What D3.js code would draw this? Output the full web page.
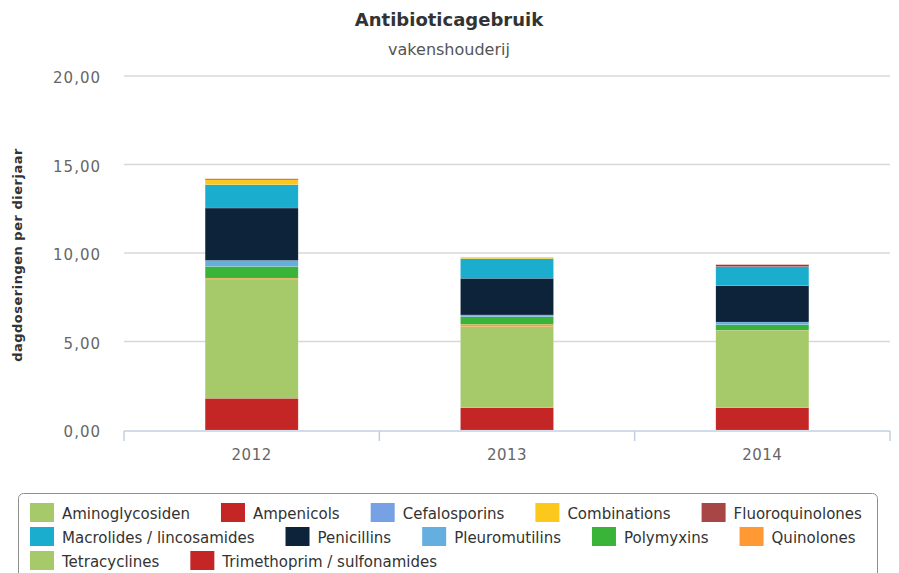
<!DOCTYPE html>
<html>
<head>
<meta charset="utf-8">
<script src="https://cdn.jsdelivr.net/npm/d3@7"></script>
<style>
  body { margin: 0; background: #fff; }
  svg { display: block; font-family: "DejaVu Sans", Verdana, sans-serif; }
</style>
</head>
<body>
<div id="chart"></div>
<script>
const width = 899;
const height = 573;

const years = ["2012", "2013", "2014"];
const seriesNames = ["Aminoglycosiden", "Ampenicols", "Cefalosporins", "Combinations", "Fluoroquinolones",
  "Macrolides / lincosamides", "Penicillins", "Pleuromutilins", "Polymyxins", "Quinolones",
  "Tetracyclines", "Trimethoprim / sulfonamides"];
const legendLabels = ["Aminoglycosiden", "Ampenicols", "Cefalosporins", "Combinations", "Fluoroquinolones",
  "Macrolides / lincosamides", "Penicillins", "Pleuromutilins", "Polymyxins", "Quinolones",
  "Tetracyclines", "Trimethoprim / sulfonamides"];
const seriesColors = ["#a6c96a", "#c42525", "#77a1e5", "#fcc81c", "#a84545",
  "#1aadce", "#0d233a", "#64aee0", "#39b338", "#ff9933",
  "#a6c96a", "#c42525"];

// values per year: 2012, 2013, 2014
const aminoglycosiden = [0, 0, 0];
const ampenicols = [0.05, 0, 0.1];
const cefalosporins = [0, 0, 0];
const combinations = [0.28, 0.08, 0];
const fluoroquinolones = [0, 0, 0];
const macrolides = [1.32, 1.11, 1.09];
const penicillins = [2.96, 2.07, 2.05];
const pleuromutilins = [0.34, 0.1, 0.15];
const polymyxins = [0.66, 0.43, 0.32];
const quinolones = [0.05, 0.13, 0.02];
const tetracyclines = [6.74, 4.58, 4.35];
const trimethoprim = [1.79, 1.26, 1.26];

const yTicks = [0, 5, 10, 15, 20];

const seriesValues = [aminoglycosiden, ampenicols, cefalosporins, combinations, fluoroquinolones,
  macrolides, penicillins, pleuromutilins, polymyxins, quinolones, tetracyclines, trimethoprim];

// table for d3.stack
const table = years.map((y, i) => {
  const row = {year: y};
  seriesNames.forEach((s, j) => { row[s] = seriesValues[j][i]; });
  return row;
});

const margin = {top: 76, right: 9, bottom: 143, left: 124};

const svg = d3.select("#chart")
    .append("svg")
    .attr("width", width)
    .attr("height", height);

const x = d3.scaleBand()
    .domain(years)
    .range([margin.left, width - margin.right])
    .paddingInner(0)
    .paddingOuter(0);

const y = d3.scaleLinear()
    .domain([0, 20])
    .range([height - margin.bottom, margin.top]);

// title
svg.append("text")
    .attr("x", 449).attr("y", 26)
    .attr("text-anchor", "middle")
    .attr("font-size", 18).attr("font-weight", "bold")
    .attr("fill", "#333")
    .text("Antibioticagebruik");

svg.append("text")
    .attr("x", 449).attr("y", 55)
    .attr("text-anchor", "middle")
    .attr("font-size", 16)
    .attr("fill", "#555")
    .text("vakenshouderij");

// gridlines
svg.append("g")
  .selectAll("line")
  .data(yTicks.filter(d => d > 0))
  .join("line")
    .attr("x1", margin.left).attr("x2", width - margin.right)
    .attr("y1", d => y(d)).attr("y2", d => y(d))
    .attr("stroke", "#d8d8d8").attr("stroke-width", 1.5);

// y labels
svg.append("g")
  .selectAll("text")
  .data(yTicks)
  .join("text")
    .attr("x", 101)
    .attr("y", d => y(d) + 7)
    .attr("text-anchor", "end")
    .attr("font-size", 15)
    .attr("letter-spacing", 1)
    .attr("fill", "#666")
    .text(d => d3.format(".2f")(d).replace(".", ","));

svg.append("text")
    .attr("transform", `translate(22,${(y(0) + y(20)) / 2 + 2}) rotate(-90)`)
    .attr("text-anchor", "middle")
    .attr("font-size", 13).attr("font-weight", "bold")
    .attr("letter-spacing", 0.5)
    .attr("fill", "#333")
    .text("dagdoseringen per dierjaar");

// stacked bars, first series on top like Highcharts
const stack = d3.stack().keys(seriesNames.slice().reverse());
const stacked = stack(table);
const barWidth = 93;

svg.append("g")
  .selectAll("g")
  .data(stacked)
  .join("g")
    .attr("fill", d => seriesColors[seriesNames.indexOf(d.key)])
  .selectAll("rect")
  .data(d => d)
  .join("rect")
    .attr("x", d => x(d.data.year) + x.bandwidth() / 2 - barWidth / 2)
    .attr("width", barWidth)
    .attr("y", d => y(d[1]))
    .attr("height", d => y(d[0]) - y(d[1]))
    .attr("stroke", "#fff").attr("stroke-opacity", 0.25).attr("stroke-width", 0.5);

// x axis
const xAxis = svg.append("g");
xAxis.append("line")
    .attr("x1", margin.left).attr("x2", width - margin.right)
    .attr("y1", y(0) + 1).attr("y2", y(0) + 1)
    .attr("stroke", "#c0d0e0").attr("stroke-width", 1.5);
xAxis.selectAll("line.tick")
  .data(years.concat(["end"]))
  .join("line")
    .attr("class", "tick")
    .attr("x1", (d, i) => i < years.length ? x(d) : x(years[years.length - 1]) + x.bandwidth())
    .attr("x2", (d, i) => i < years.length ? x(d) : x(years[years.length - 1]) + x.bandwidth())
    .attr("y1", y(0) + 1).attr("y2", y(0) + 11)
    .attr("stroke", "#c0d0e0").attr("stroke-width", 1.5);
xAxis.selectAll("text")
  .data(years)
  .join("text")
    .attr("x", d => x(d) + x.bandwidth() / 2)
    .attr("y", y(0) + 30)
    .attr("text-anchor", "middle")
    .attr("font-size", 15)
    .attr("letter-spacing", 0.5)
    .attr("fill", "#666")
    .text(d => d);

// legend
const legend = svg.append("g");
legend.append("rect")
    .attr("x", 18.5).attr("y", 493.5)
    .attr("width", 859).attr("height", 100)
    .attr("rx", 5)
    .attr("fill", "none").attr("stroke", "#909090");

let lx = 30, ly = 503;
const maxX = 872;
legendLabels.forEach((name, i) => {
  const item = legend.append("g");
  const t = item.append("text")
      .attr("x", 32).attr("y", 16)
      .attr("font-size", 15)
      .attr("fill", "#333")
      .text(name);
  const w = 32 + t.node().getComputedTextLength();
  if (lx + w > maxX) { lx = 30; ly += 24; }
  item.append("rect")
      .attr("width", 24).attr("height", 19)
      .attr("fill", seriesColors[i]);
  item.attr("transform", `translate(${lx},${ly})`);
  lx += w + 31;
});
</script>
</body>
</html>
